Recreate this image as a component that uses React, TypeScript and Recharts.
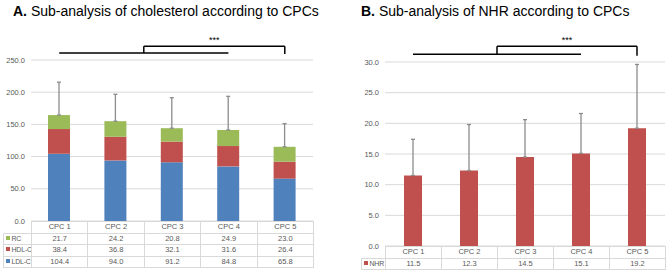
import React from 'react';
import { BarChart, Bar, XAxis, YAxis, CartesianGrid, ErrorBar, ReferenceLine } from 'recharts';

const categories = ['CPC 1', 'CPC 2', 'CPC 3', 'CPC 4', 'CPC 5'];
const ldlValues = [104.4, 94.0, 91.2, 84.8, 65.8];
const hdlValues = [38.4, 36.8, 32.1, 31.6, 26.4];
const rcValues = [21.7, 24.2, 20.8, 24.9, 23.0];
const cholSd = [51.0, 41.7, 47.4, 52.3, 35.9];
const nhrValues = [11.5, 12.3, 14.5, 15.1, 19.2];
const nhrSd = [5.9, 7.5, 6.1, 6.5, 10.4];
const cholTicks = [0, 50, 100, 150, 200, 250];
const nhrTicks = [0, 5, 10, 15, 20, 25, 30];

const BLUE = '#4F81BD';
const RED = '#C0504D';
const GREEN = '#9BBB59';
const GRID = '#D9D9D9';
const TXT = '#595959';
const FONT = '"Liberation Sans", Arial, sans-serif';

const cholData = categories.map((c, i) => ({
  name: c,
  idx: i + 1,
  ldl: ldlValues[i],
  hdl: hdlValues[i],
  rc: rcValues[i],
  sd: cholSd[i],
}));
const nhrData = categories.map((c, i) => ({ name: c, idx: i + 1, nhr: nhrValues[i], sd: nhrSd[i] }));

type Row = { label: string; color: string; values: number[] };

function DataTable(props: {
  legendLeft: number;
  plotLeft: number;
  plotRight: number;
  top: number;
  rowH: number;
  rows: Row[];
}) {
  const { legendLeft, plotLeft, plotRight, top, rowH, rows } = props;
  const cw = (plotRight - plotLeft) / categories.length;
  const cells: React.ReactNode[] = [];
  const cellStyle = (x: number, y: number, w: number): React.CSSProperties => ({
    position: 'absolute',
    left: x,
    top: y,
    width: w + 1,
    height: rowH + 1,
    boxSizing: 'border-box',
    border: `1px solid ${GRID}`,
    fontFamily: FONT,
    fontSize: 7.5,
    color: TXT,
    lineHeight: `${rowH - 1}px`,
    textAlign: 'center',
    whiteSpace: 'nowrap',
    overflow: 'hidden',
  });
  categories.forEach((c, i) => {
    cells.push(
      <div key={'h' + i} style={cellStyle(plotLeft + i * cw, top, cw)}>
        {c}
      </div>
    );
  });
  rows.forEach((r, ri) => {
    const y = top + (ri + 1) * rowH;
    cells.push(
      <div key={'l' + ri} style={{ ...cellStyle(legendLeft, y, plotLeft - legendLeft), textAlign: 'left', paddingLeft: 2, fontSize: 7, letterSpacing: -0.2 }}>
        <span style={{ display: 'inline-block', width: 4, height: 4, background: r.color, marginRight: 1.5, verticalAlign: 'middle', position: 'relative', top: -1 }} />
        {r.label}
      </div>
    );
    r.values.forEach((v, i) => {
      cells.push(
        <div key={'c' + ri + '_' + i} style={cellStyle(plotLeft + i * cw, y, cw)}>
          {v.toFixed(1)}
        </div>
      );
    });
  });
  return <>{cells}</>;
}

const tickStyle = { fontSize: 7.5, fill: TXT, fontFamily: FONT };
const fmt = (v: number) => v.toFixed(1);

export default function App() {
  return (
    <div style={{ position: 'absolute', left: 0, top: 0, width: 669, height: 271, background: '#fff', overflow: 'hidden' }}>
      <div style={{ position: 'absolute', left: 13, top: 3, fontFamily: FONT, fontSize: 14, color: '#000', whiteSpace: 'nowrap' }}>
        <b>A.</b> Sub-analysis of cholesterol according to CPCs
      </div>
      <div style={{ position: 'absolute', left: 361, top: 3, fontFamily: FONT, fontSize: 14, color: '#000', whiteSpace: 'nowrap' }}>
        <b>B.</b> Sub-analysis of NHR according to CPCs
      </div>

      <div style={{ position: 'absolute', left: 0, top: 0 }}>
        <BarChart width={340} height={271} data={cholData} margin={{ top: 60, right: 27, bottom: 50, left: 0 }}>
          <CartesianGrid vertical={false} stroke={GRID} />
          <XAxis dataKey="name" hide />
          <XAxis xAxisId="num" dataKey="idx" type="number" domain={[0.5, 5.5]} allowDataOverflow hide />
          <YAxis
            width={31}
            domain={[0, 250]}
            ticks={cholTicks}
            tickFormatter={fmt}
            axisLine={false}
            tickLine={false}
            tickSize={0}
            tickMargin={6}
            tick={tickStyle}
          />
          <Bar dataKey="ldl" stackId="a" fill={BLUE} barSize={22} isAnimationActive={false} />
          <Bar dataKey="hdl" stackId="a" fill={RED} barSize={22} isAnimationActive={false} />
          <Bar dataKey="rc" stackId="a" fill={GREEN} barSize={22} isAnimationActive={false}>
            <ErrorBar dataKey={(d: any) => [0, d.sd]} stroke="#8C8C8C" strokeWidth={1.3} width={2} />
          </Bar>
          <ReferenceLine xAxisId="num" ifOverflow="visible" stroke="#000" strokeWidth={1.5}
            segment={[{ x: 1, y: 260.8 }, { x: 4, y: 260.8 }]} />
          <ReferenceLine xAxisId="num" ifOverflow="visible" stroke="#000" strokeWidth={1.5}
            segment={[{ x: 2.5, y: 271.5 }, { x: 5, y: 271.5 }]}
            label={{ value: '***', position: 'top', offset: 3, fontSize: 9, fill: '#000', fontFamily: FONT }} />
          <ReferenceLine xAxisId="num" ifOverflow="visible" stroke="#000" strokeWidth={1.5}
            segment={[{ x: 2.5, y: 271.5 }, { x: 2.5, y: 260.8 }]} />
          <ReferenceLine xAxisId="num" ifOverflow="visible" stroke="#000" strokeWidth={1.5}
            segment={[{ x: 5, y: 271.5 }, { x: 5, y: 259.5 }]} />
        </BarChart>
      </div>

      <div style={{ position: 'absolute', left: 340, top: 0 }}>
        <BarChart width={329} height={271} data={nhrData} margin={{ top: 62, right: 4, bottom: 25, left: 0 }}>
          <CartesianGrid vertical={false} stroke={GRID} />
          <XAxis dataKey="name" hide />
          <XAxis xAxisId="num" dataKey="idx" type="number" domain={[0.5, 5.5]} allowDataOverflow hide />
          <YAxis
            width={45}
            domain={[0, 30]}
            ticks={nhrTicks}
            tickFormatter={fmt}
            axisLine={false}
            tickLine={false}
            tickSize={0}
            tickMargin={6}
            tick={tickStyle}
          />
          <Bar dataKey="nhr" fill={RED} barSize={18} isAnimationActive={false}>
            <ErrorBar dataKey={(d: any) => [0, d.sd]} stroke="#8C8C8C" strokeWidth={1.3} width={2} />
          </Bar>
          <ReferenceLine xAxisId="num" ifOverflow="visible" stroke="#000" strokeWidth={1.5}
            segment={[{ x: 1, y: 31.25 }, { x: 4, y: 31.25 }]} />
          <ReferenceLine xAxisId="num" ifOverflow="visible" stroke="#000" strokeWidth={1.5}
            segment={[{ x: 2.5, y: 32.55 }, { x: 5, y: 32.55 }]}
            label={{ value: '***', position: 'top', offset: 3, fontSize: 9, fill: '#000', fontFamily: FONT }} />
          <ReferenceLine xAxisId="num" ifOverflow="visible" stroke="#000" strokeWidth={1.5}
            segment={[{ x: 2.5, y: 32.55 }, { x: 2.5, y: 31.25 }]} />
          <ReferenceLine xAxisId="num" ifOverflow="visible" stroke="#000" strokeWidth={1.5}
            segment={[{ x: 5, y: 32.55 }, { x: 5, y: 31.0 }]} />
        </BarChart>
      </div>

      <DataTable legendLeft={3} plotLeft={31} plotRight={313} top={221} rowH={11.5}
        rows={[
          { label: 'RC', color: GREEN, values: rcValues },
          { label: 'HDL-C', color: RED, values: hdlValues },
          { label: 'LDL-C', color: BLUE, values: ldlValues },
        ]} />
      <DataTable legendLeft={361} plotLeft={385} plotRight={665} top={246} rowH={11.5}
        rows={[{ label: 'NHR', color: RED, values: nhrValues }]} />
    </div>
  );
}
